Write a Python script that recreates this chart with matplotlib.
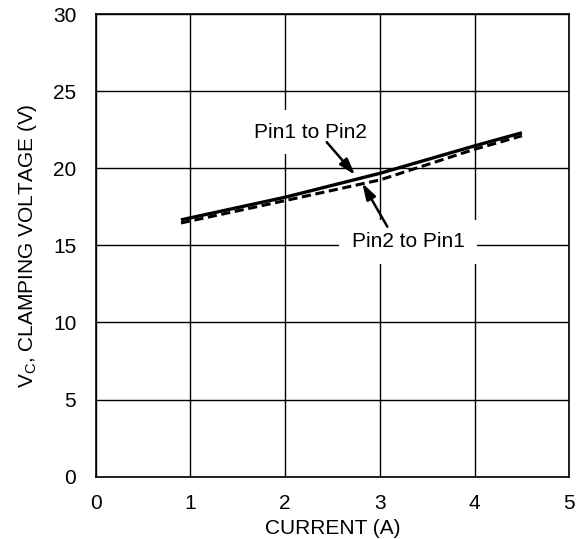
import matplotlib
matplotlib.use("Agg")
import matplotlib.pyplot as plt

plt.rcParams['font.family'] = ['Liberation Sans', 'DejaVu Sans']

# current (A) and clamping voltage (V)
current = [0.9, 2.0, 3.0, 4.0, 4.5]
v_pin1_to_pin2 = [16.65, 18.12, 19.67, 21.45, 22.3]
v_pin2_to_pin1 = [16.45, 17.9, 19.24, 21.23, 22.1]

xticks = [0, 1, 2, 3, 4, 5]
yticks = [0, 5, 10, 15, 20, 25, 30]

fig = plt.figure(figsize=(5.87, 5.39), dpi=100)
ax = fig.add_axes([95.7/587, 1 - 476.7/539, (569.3-95.7)/587, (476.7-14)/539])

ax.plot(current, v_pin1_to_pin2, color='black', lw=2.4, solid_capstyle='butt', zorder=3)
ax.plot(current, v_pin2_to_pin1, color='black', lw=2.2, ls=(0, (3, 1.5)), zorder=3)

ax.set_xlim(0, 5)
ax.set_ylim(0, 30)
ax.set_xticks(xticks)
ax.set_yticks(yticks)
ax.tick_params(length=0, labelsize=15)
ax.tick_params(axis='x', pad=12.5)
ax.tick_params(axis='y', pad=14)
ax.grid(True, color='black', lw=1)
ax.set_axisbelow(True)
for s in ax.spines.values():
    s.set_linewidth(1.2)

ax.set_xlabel('CURRENT (A)', fontsize=15, labelpad=4)
ax.set_ylabel(r'V$_\mathregular{C}$, CLAMPING VOLTAGE (V)', fontsize=15, labelpad=10)

# labels with white boxes that cut the grid
ax.text(2.263, 22.34, 'Pin1 to Pin2', fontsize=15, ha='center', va='center', zorder=4,
        bbox=dict(boxstyle='square,pad=0.6', fc='white', ec='none'))
ax.text(3.297, 15.24, 'Pin2 to Pin1', fontsize=15, ha='center', va='center', zorder=4,
        bbox=dict(boxstyle='square,pad=0.6', fc='white', ec='none'))

arrow = dict(arrowstyle='-|>,head_length=0.7,head_width=0.22', color='black', lw=1.8,
             shrinkA=0, shrinkB=0, mutation_scale=14)
ax.annotate('', xy=(2.738, 19.57), xytext=(2.439, 21.69), arrowprops=arrow, zorder=5)
ax.annotate('', xy=(2.815, 19.03), xytext=(3.079, 16.21), arrowprops=arrow, zorder=5)

fig.savefig('out.png', dpi=100)
